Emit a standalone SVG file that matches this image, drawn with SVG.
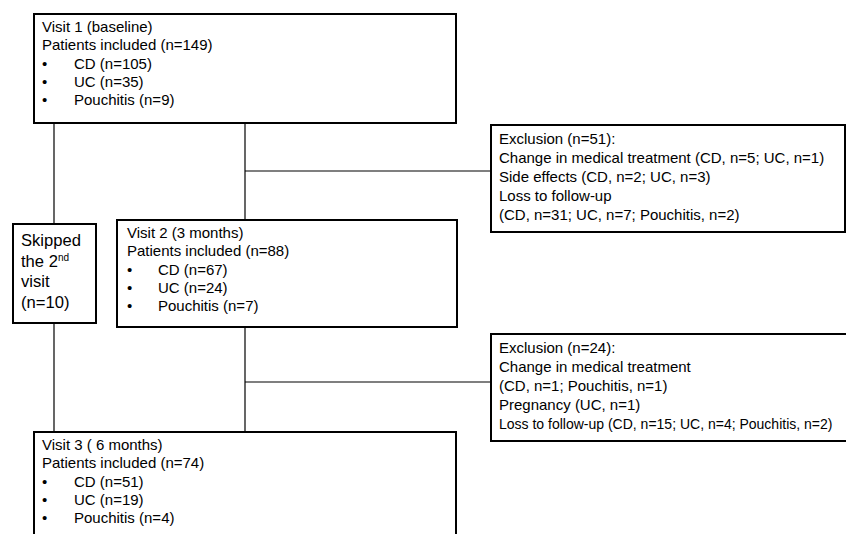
<svg xmlns="http://www.w3.org/2000/svg" width="846" height="534" viewBox="0 0 846 534">
<style>
.box{fill:#fff;stroke:#000;stroke-width:2}
.t{font-family:"Liberation Sans",Arial,sans-serif;font-size:15px;fill:#000}
.s{font-family:"Liberation Sans",Arial,sans-serif;font-size:16.6px;fill:#000}
.conn line{stroke:#000;stroke-width:1.2}
</style>
<rect width="846" height="534" fill="#fff"/>
<g id="connectors" class="conn">
<line x1="54" y1="123" x2="54" y2="224"/>
<line x1="54" y1="323" x2="54" y2="432"/>
<line x1="245" y1="123" x2="245" y2="220"/>
<line x1="245" y1="327" x2="245" y2="432"/>
<line x1="245" y1="171" x2="491" y2="171"/>
<line x1="245" y1="382" x2="491" y2="382"/>
</g>
<g id="visit1">
<rect class="box" x="34" y="14" width="422" height="109"/>
<text class="t" x="42" y="32">Visit 1 (baseline)</text>
<text class="t" x="42" y="50.3">Patients included (n=149)</text>
<text class="t" x="42" y="68.6">•</text><text class="t" x="74" y="68.6">CD (n=105)</text>
<text class="t" x="42" y="86.9">•</text><text class="t" x="74" y="86.9">UC (n=35)</text>
<text class="t" x="42" y="105.2">•</text><text class="t" x="74" y="105.2">Pouchitis (n=9)</text>
</g>
<g id="exclusion1">
<rect class="box" x="491" y="125" width="354" height="107"/>
<text class="t" x="499" y="144">Exclusion (n=51):</text>
<text class="t" x="499" y="163">Change in medical treatment (CD, n=5; UC, n=1)</text>
<text class="t" x="499" y="182">Side effects (CD, n=2; UC, n=3)</text>
<text class="t" x="499" y="201">Loss to follow-up</text>
<text class="t" x="499" y="220">(CD, n=31; UC, n=7; Pouchitis, n=2)</text>
</g>
<g id="skipped">
<rect class="box" x="13" y="224" width="83" height="99"/>
<text class="s" x="21" y="246">Skipped</text>
<text class="s" x="21" y="266.5">the 2<tspan font-size="10" dy="-6">nd</tspan></text>
<text class="s" x="21" y="287">visit</text>
<text class="s" x="21" y="307.5">(n=10)</text>
</g>
<g id="visit2">
<rect class="box" x="117" y="220" width="340" height="107"/>
<text class="t" x="127" y="238">Visit 2 (3 months)</text>
<text class="t" x="127" y="256.3">Patients included (n=88)</text>
<text class="t" x="127" y="274.6">•</text><text class="t" x="158" y="274.6">CD  (n=67)</text>
<text class="t" x="127" y="292.9">•</text><text class="t" x="158" y="292.9">UC (n=24)</text>
<text class="t" x="127" y="311.2">•</text><text class="t" x="158" y="311.2">Pouchitis (n=7)</text>
</g>
<g id="exclusion2">
<rect class="box" x="491" y="334" width="360" height="107"/>
<text class="t" x="499" y="353">Exclusion (n=24):</text>
<text class="t" x="499" y="372">Change in medical treatment</text>
<text class="t" x="499" y="391">(CD, n=1; Pouchitis, n=1)</text>
<text class="t" x="499" y="410">Pregnancy (UC, n=1)</text>
<text class="t" x="499" y="429" style="font-size:14px">Loss to follow-up (CD, n=15; UC, n=4; Pouchitis, n=2)</text>
</g>
<g id="visit3">
<rect class="box" x="34" y="432" width="422" height="120"/>
<text class="t" x="42" y="450">Visit 3 ( 6 months)</text>
<text class="t" x="42" y="468.3">Patients included (n=74)</text>
<text class="t" x="42" y="486.6">•</text><text class="t" x="74" y="486.6">CD (n=51)</text>
<text class="t" x="42" y="504.9">•</text><text class="t" x="74" y="504.9">UC (n=19)</text>
<text class="t" x="42" y="523.2">•</text><text class="t" x="74" y="523.2">Pouchitis (n=4)</text>
</g>
</svg>
